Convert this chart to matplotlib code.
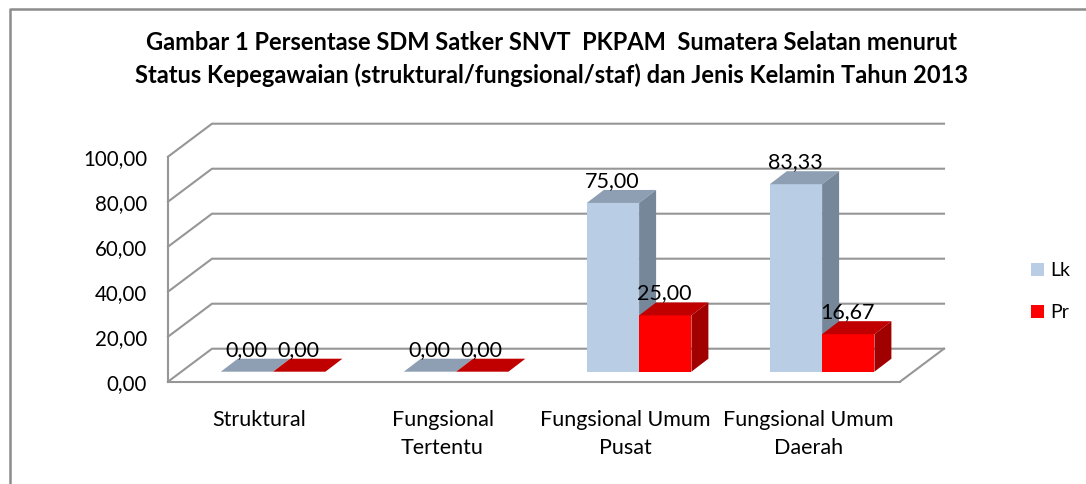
import matplotlib.pyplot as plt
from matplotlib.patches import Polygon, Rectangle

W, H = 1086, 484

categories = ['Struktural', 'Fungsional\nTertentu', 'Fungsional Umum\nPusat', 'Fungsional Umum\nDaerah']
lk = [0.00, 0.00, 75.00, 83.33]
pr = [0.00, 0.00, 25.00, 16.67]
yticks = [0, 20, 40, 60, 80, 100]

plt.rcParams['font.family'] = ['Lato', 'DejaVu Sans']

fig = plt.figure(figsize=(W / 100, H / 100), dpi=100)

# front wall of the 3d box, pixels of the picture
left, right, top, base = 168, 900, 156.7, 381.7
ax = fig.add_axes([left / W, 1 - base / H, (right - left) / W, (base - top) / H])
ax.set_xlim(-0.5, 3.5)
ax.set_ylim(0, 100)
ax.set_facecolor('none')

px = 4 / (right - left)      # one pixel in x units
py = 100 / (base - top)      # one pixel in y units

grid_c = '#969696'
back_x, back_y = 44 * px, 33 * py
# back wall and side lines
for v in yticks:
    ax.plot([-0.5, -0.5 + back_x, 3.5 + back_x], [v, v + back_y, v + back_y],
            color=grid_c, lw=1.5, clip_on=False, zorder=1)
ax.plot([3.5, 3.5 + back_x], [0, back_y], color=grid_c, lw=1.5, clip_on=False, zorder=1)

for s in ['top', 'right']:
    ax.spines[s].set_visible(False)
for s in ['left', 'bottom']:
    ax.spines[s].set_color(grid_c)
    ax.spines[s].set_linewidth(1.5)


def fmt(v):
    return ('%.2f' % v).replace('.', ',')


ax.set_yticks(yticks)
ax.set_yticklabels([fmt(v) for v in yticks], fontsize=14.8)
ax.set_xticks(range(4))
ax.set_xticklabels(categories, fontsize=15.5, linespacing=1.5)
ax.tick_params(axis='both', length=0, colors='#000000')
ax.tick_params(axis='x', pad=20.5)
ax.tick_params(axis='y', pad=15)

# bars stand a bit behind the front wall
shift_x, lift = 13.6 * px, 10 * py
bar_w = 52.3 * px
depth_x, depth_y = 17 * px, 13 * py


def bar3d(x, val, front, top_c, side_c):
    ax.bar(x, val, bar_w, bottom=lift, color=front, align='edge', zorder=3, clip_on=False)
    y1 = val + lift
    ax.add_patch(Polygon([(x, y1), (x + bar_w, y1), (x + bar_w + depth_x, y1 + depth_y),
                          (x + depth_x, y1 + depth_y)], color=top_c, zorder=3, lw=0, clip_on=False))
    ax.add_patch(Polygon([(x + bar_w, lift), (x + bar_w, y1), (x + bar_w + depth_x, y1 + depth_y),
                          (x + bar_w + depth_x, lift + depth_y)], color=side_c, zorder=3, lw=0, clip_on=False))


label_up = 9 * py
label_dx = -0.5 * px
for i in range(4):
    x0 = i + shift_x
    bar3d(x0 - bar_w, lk[i], '#B9CDE5', '#8E9FB3', '#77879A')
for i in range(4):
    x0 = i + shift_x
    bar3d(x0, pr[i], '#FF0000', '#C00000', '#A00000')
    ax.text(x0 - bar_w / 2 + label_dx, lk[i] + lift + depth_y + label_up, fmt(lk[i]),
            ha='center', va='center', fontsize=15.5, zorder=5)
    ax.text(x0 + bar_w / 2 + label_dx, pr[i] + lift + depth_y + label_up, fmt(pr[i]),
            ha='center', va='center', fontsize=15.5, zorder=5)

fig.text(551.5 / W, 1 - 43 / H, 'Gambar 1 Persentase SDM Satker SNVT  PKPAM  Sumatera Selatan menurut',
         ha='center', va='center', fontsize=17, fontweight='bold')
fig.text(551.5 / W, 1 - 75 / H, 'Status Kepegawaian (struktural/fungsional/staf) dan Jenis Kelamin Tahun 2013',
         ha='center', va='center', fontsize=17, fontweight='bold')

# legend
fig.add_artist(Rectangle((1031 / W, 1 - 276 / H), 13 / W, 13 / H, color='#B9CDE5', lw=0))
fig.add_artist(Rectangle((1031 / W, 1 - 318 / H), 13 / W, 13 / H, color='#FF0000', lw=0))
fig.text(1050 / W, 1 - 270 / H, 'Lk', va='center', fontsize=14)
fig.text(1050 / W, 1 - 312 / H, 'Pr', va='center', fontsize=14)

# outer frame, runs off the picture on the right and bottom
frame_c = '#8C8C8C'
fig.add_artist(plt.Line2D([9.5 / W, 9.5 / W, 1], [0, 1 - 8.5 / H, 1 - 8.5 / H], color=frame_c, lw=1.8))

fig.savefig('out.png', dpi=100)
